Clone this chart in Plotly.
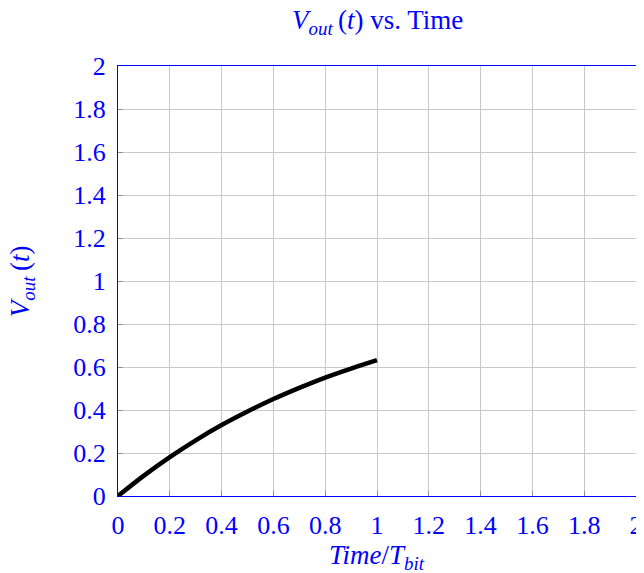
import plotly.graph_objects as go

time_ratio = [0.0, 0.1, 0.2, 0.3, 0.4, 0.5, 0.6, 0.7, 0.8, 0.9, 1.0]
v_out = [0.0, 0.095, 0.181, 0.259, 0.330, 0.393, 0.451, 0.503, 0.551, 0.593, 0.632]

tick_vals = [0, 0.2, 0.4, 0.6, 0.8, 1, 1.2, 1.4, 1.6, 1.8, 2]
tick_text = ["0", "0.2", "0.4", "0.6", "0.8", "1", "1.2", "1.4", "1.6", "1.8", "2"]

blue = "#0000ff"
font_family = "Liberation Serif, Times New Roman, serif"
fsize = 26

fig = go.Figure()
fig.add_trace(go.Scatter(x=time_ratio, y=v_out, mode="lines",
                         line=dict(color="black", width=4.5, shape="spline"),
                         showlegend=False))

axis_common = dict(
    range=[0, 2], tickvals=tick_vals, ticktext=tick_text,
    showgrid=True, gridcolor="#c8c8c8", gridwidth=1,
    showline=True, linecolor=blue, linewidth=1.2, mirror=True,
    ticks="inside", ticklen=5, tickcolor="#909090",
    tickfont=dict(family=font_family, size=fsize, color=blue),
    zeroline=False, automargin=False, ticklabelstandoff=6,
)

fig.update_layout(
    width=636, height=565,
    margin=dict(l=110, r=8, t=58, b=77),
    plot_bgcolor="white", paper_bgcolor="white",
    xaxis=dict(**axis_common),
    yaxis=dict(**axis_common),
    annotations=[
        dict(text="<i>V</i><sub><i>out</i></sub>\u2009(<i>t</i>) vs. Time",
             xref="paper", yref="paper", x=0.5, y=1.102,
             xanchor="center", yanchor="middle", showarrow=False,
             font=dict(family=font_family, size=27, color=blue)),
        dict(text="<i>Time</i>/<i>T</i><sub><i>bit</i></sub>",
             xref="paper", yref="paper", x=0.5, y=-0.142,
             xanchor="center", yanchor="middle", showarrow=False,
             font=dict(family=font_family, size=27, color=blue)),
        dict(text="<i>V</i><sub><i>out</i></sub>\u2009(<i>t</i>)",
             xref="paper", yref="paper", x=-0.185, y=0.5,
             xanchor="center", yanchor="middle", showarrow=False, textangle=-90,
             font=dict(family=font_family, size=27, color=blue)),
    ],
)

fig.write_html("out.html")
